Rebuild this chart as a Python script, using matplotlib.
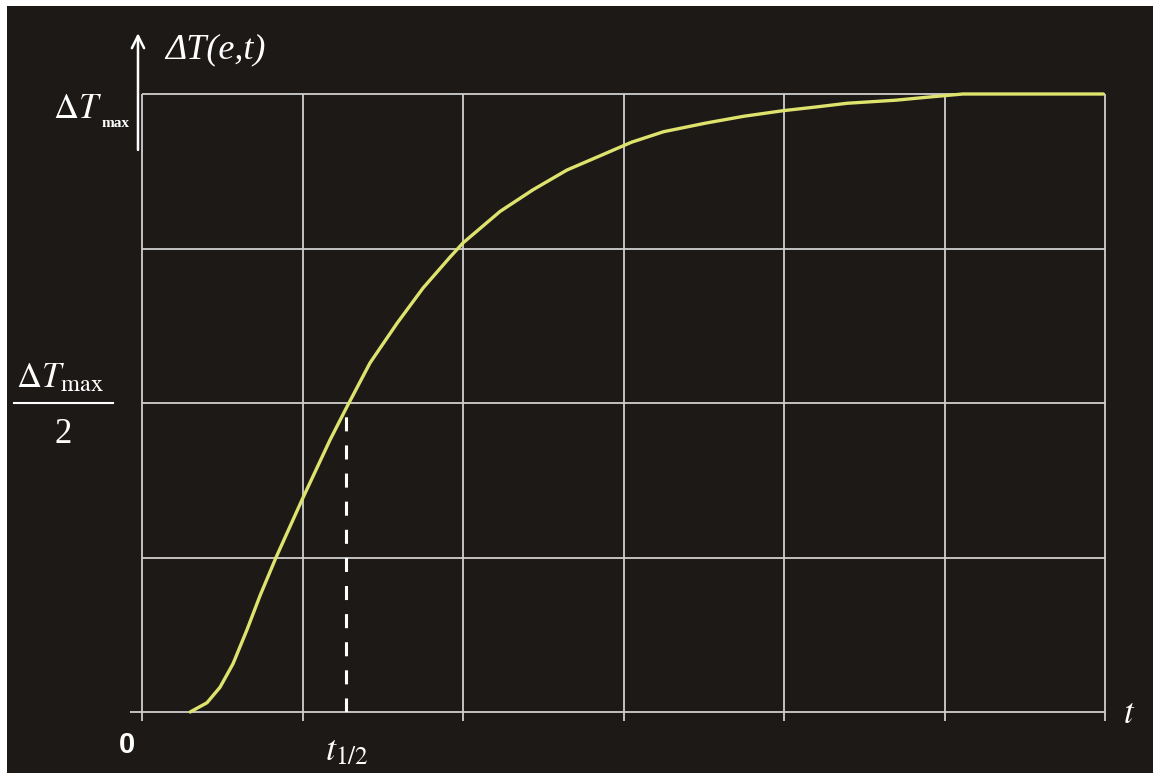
import numpy as np
import matplotlib.pyplot as plt
from matplotlib.patches import Rectangle

plt.rcParams['mathtext.fontset'] = 'stix'

# curve (t in grid units, dT as fraction of dT_max)
t_vals = [0.30, 0.405, 0.486, 0.567, 0.654, 0.735, 0.835, 1.0, 1.171,
          1.277, 1.421, 1.589, 1.751, 1.919, 2.0, 2.231, 2.436, 2.648,
          2.854, 3.05, 3.25, 3.514, 3.75, 3.994, 4.2, 4.393, 4.698, 4.9,
          5.115, 5.99]
dT_vals = [0.0, 0.015, 0.040, 0.078, 0.133, 0.188, 0.250, 0.345, 0.440,
           0.494, 0.565, 0.629, 0.686, 0.736, 0.759, 0.810, 0.845, 0.877,
           0.900, 0.922, 0.939, 0.953, 0.964, 0.973, 0.979, 0.985, 0.990,
           0.995, 1.0, 1.0]
t_half = 1.27
x_grid = [0, 1, 2, 3, 4, 5, 6]
y_grid = [0, 0.25, 0.5, 0.75, 1.0]

bg = '#1d1917'
grid_col = '#cfcfcf'
curve_col = '#dde36c'

fig = plt.figure(figsize=(11.53, 7.73), dpi=100, facecolor=bg)
# white scan margin on the left and top
fig.patches.append(Rectangle((0, 0), 7 / 1153, 1, transform=fig.transFigure,
                             facecolor='white', edgecolor='none'))
fig.patches.append(Rectangle((0, 1 - 6 / 773), 1, 6 / 773, transform=fig.transFigure,
                             facecolor='white', edgecolor='none'))

ax = fig.add_axes([142 / 1153, 61 / 773, 963 / 1153, 618 / 773])
ax.set_facecolor('none')
ax.set_xlim(0, 6)
ax.set_ylim(0, 1)
for s in ax.spines.values():
    s.set_visible(False)
ax.set_xticks([])
ax.set_yticks([])

# grid
ax.vlines(x_grid, -0.015, 1, color=grid_col, lw=1.3, clip_on=False)
ax.hlines(y_grid[1:], 0, 6, color=grid_col, lw=1.3, clip_on=False)
ax.hlines(0, -0.075, 6, color=grid_col, lw=1.3, clip_on=False)

# y-axis arrow
ax.annotate('', xy=(-0.025, 1.103), xytext=(-0.025, 0.905),
            arrowprops=dict(arrowstyle='->', color='white', lw=1.8,
                            mutation_scale=22), annotation_clip=False)

# half-time marker
ax.vlines(t_half, 0, 0.5, color='white', lw=2.2, linestyles=[(0, (4.6, 4.6))])

# the curve
ax.plot(t_vals, dT_vals, color=curve_col, lw=2.4, solid_capstyle='round',
        solid_joinstyle='round', clip_on=False)

# labels
ax.text(0.143, 1.058, 'ΔT(e,t)', family='Liberation Serif', style='italic',
        fontsize=26, color='white', va='baseline', ha='left')
ax.text(-0.555, 0.961, r'$\Delta T$', fontsize=25, color='white',
        va='baseline', ha='left')
ax.text(-0.25, 0.946, 'max', family='Liberation Serif', weight='bold',
        fontsize=11, color='white', va='baseline', ha='left')
ax.text(-0.511, 0.526, r'$\Delta T_{\rm max}$', fontsize=25, color='white',
        va='baseline', ha='center')
ax.plot([-0.80, -0.18], [0.5, 0.5], color='white', lw=1.5, clip_on=False)
ax.text(-0.492, 0.435, '2', family='Liberation Serif', fontsize=25,
        color='white', va='baseline', ha='center')
ax.text(-0.093, -0.066, '0', family='Liberation Sans', fontsize=21,
        weight='bold', color='white', va='baseline', ha='center')
ax.text(1.14, -0.078, r'$\mathit{t}_{\mathit{1/2}}$', fontsize=26, color='white',
        va='baseline', ha='left')
ax.text(6.11, -0.018, r'$\mathit{t}$', fontsize=25, color='white',
        va='baseline', ha='left')

fig.savefig('out.png', dpi=100, facecolor=fig.get_facecolor())
